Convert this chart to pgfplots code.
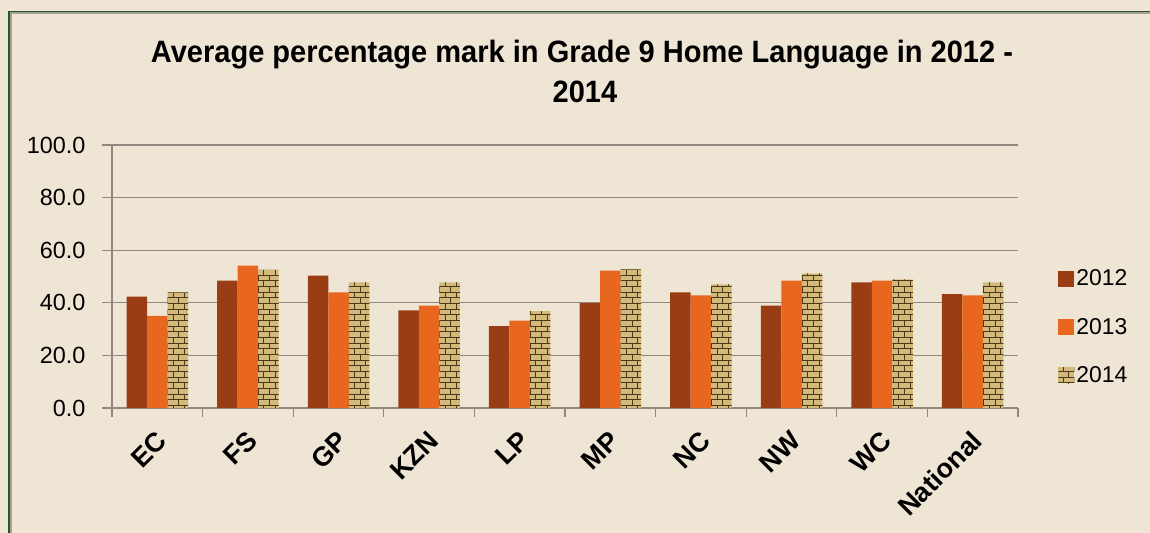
\documentclass[border=0pt]{standalone}
\usepackage{fontspec}
\setmainfont{Liberation Sans}
\newfontfamily\narrowfont{Liberation Sans}[FakeStretch=0.94]
\usepackage{pgfplots}
\pgfplotsset{compat=1.18}
\usetikzlibrary{patterns}
\definecolor{bg}{HTML}{EEE5D5}
\definecolor{c12}{HTML}{9A3D14}
\definecolor{c13}{HTML}{E8661E}
\definecolor{c14}{HTML}{D4BA7A}
\definecolor{c14p}{HTML}{4A3818}
\definecolor{gridc}{HTML}{928780}
\definecolor{framec}{HTML}{1F5A2B}
\definecolor{shadowc}{HTML}{A89E94}
\begin{document}
\begin{tikzpicture}
\useasboundingbox (0bp,0bp) rectangle (1150bp,533bp);
\fill[bg] (0bp,0bp) rectangle (1150bp,533bp);
\fill[shadowc] (9.5bp,0bp) rectangle (11.5bp,520.5bp);
\fill[shadowc] (9.5bp,518.5bp) rectangle (1150bp,520.5bp);
\fill[framec] (7.5bp,0bp) rectangle (9.5bp,522bp);
\fill[framec] (7.5bp,520.5bp) rectangle (1150bp,522bp);
\node[anchor=base, font=\narrowfont\bfseries\fontsize{31}{36}\selectfont] at (582bp,470bp) {Average percentage mark in Grade 9 Home Language in 2012 -};
\node[anchor=base, font=\narrowfont\bfseries\fontsize{31}{36}\selectfont] at (585bp,430bp) {2014};
\begin{axis}[
  at={(112bp,125bp)}, anchor=south west,
  scale only axis, width=906bp, height=263bp,
  ybar=0pt, bar width=20.5bp,
  xmin=-0.5, xmax=9.5, ymin=0, ymax=100,
  xtick={0,...,9},
  xticklabels={EC,FS,GP,KZN,LP,MP,NC,NW,WC,National},
  major x tick style={draw=none},
  minor xtick={-0.5,0.5,...,9.5},
  ytick={0,20,...,100},
  /pgf/number format/fixed,
  /pgf/number format/fixed zerofill,
  /pgf/number format/precision=1,
  /pgf/number format/assume math mode=true,
  tick align=outside,
  major tick length=10bp, minor tick length=9bp,
  axis x line*=bottom, axis y line*=left,
  ymajorgrids,
  grid style={gridc, line width=1.2bp},
  axis line style={gridc, line width=1.2bp},
  tick style={gridc, line width=1.2bp},
  x tick label style={rotate=45, anchor=east, xshift=-6bp, yshift=-16bp, font=\bfseries\fontsize{27}{27}\selectfont},
  y tick label style={xshift=-13bp, font=\fontsize{23.5}{23.5}\selectfont},
  legend style={at={(1.041,0.308)}, anchor=west, draw=none, fill=none,
    font=\fontsize{23}{23}\selectfont, row sep=27bp,
    /tikz/every even column/.append style={column sep=7bp}},
  legend image code/.code={\path[#1] (0bp,-8bp) rectangle (16bp,8bp);},
  legend cell align=left,
]
\addplot[fill=c12, draw=none] coordinates {(0,42.3)(1,48.4)(2,50.3)(3,37.1)(4,31.1)(5,39.9)(6,44.0)(7,38.9)(8,47.8)(9,43.3)};
\addplot[fill=c13, draw=none] coordinates {(0,35.0)(1,54.1)(2,44.0)(3,38.9)(4,33.2)(5,52.2)(6,42.8)(7,48.4)(8,48.4)(9,42.8)};
\addplot[fill=c14, draw=none, postaction={pattern=bricks, pattern color=c14p}] coordinates {(0,44.0)(1,52.5)(2,47.8)(3,47.8)(4,36.8)(5,52.7)(6,47.0)(7,51.2)(8,48.9)(9,47.8)};
\legend{2012,2013,2014}
\end{axis}
\end{tikzpicture}
\end{document}
